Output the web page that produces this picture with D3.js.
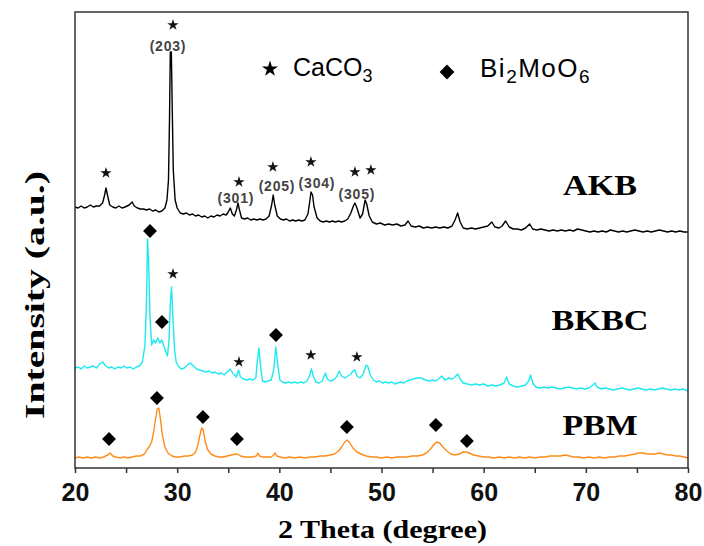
<!DOCTYPE html>
<html>
<head>
<meta charset="utf-8">
<script src="https://cdn.jsdelivr.net/npm/d3@7"></script>
<style>
    body { margin: 0; background: #fff; }
    #chart { width: 704px; height: 546px; }
</style>
</head>
<body>
<div id="chart"></div>
<script>

// sample names and vertical stacking offsets (a.u.)
const samples = ["AKB", "BKBC", "PBM"];
const offsets = [236, 78, 10];
const colors = ["#000000", "#1ee8f0", "#ff8c1a"];

const xTicks = [20, 25, 30, 35, 40, 45, 50, 55, 60, 65, 70, 75, 80];

// [2theta, intensity]
const akb = [[20.0,25],[20.3,24],[20.6,26],[20.9,24],[21.2,25],[21.5,27],[21.8,25],[22.1,26],[22.4,26],[22.7,29],
    [22.9,37],[23.03,44],[23.2,36],[23.4,27],[23.7,25],[24.0,24],[24.3,26],[24.6,24],[24.9,25],[25.3,27],[25.6,30],
    [25.8,26],[26.1,24],[26.4,23],[26.7,23],[27.0,22],[27.3,23],[27.6,21],[27.9,22],[28.2,20],[28.5,21],[28.8,24],
    [29.0,32],[29.15,52],[29.25,112],[29.33,180],[29.43,180],[29.52,122],[29.62,62],[29.8,32],[30.0,24],[30.3,19],
    [30.6,18],[30.9,19],[31.2,17],[31.5,18],[31.8,16],[32.1,17],[32.4,15],[32.7,16],[33.0,14],[33.3,16],[33.6,15],
    [33.9,17],[34.2,16],[34.5,18],[34.8,17],[35.0,20],[35.2,24],[35.4,18],[35.6,16],[35.8,22],[35.95,29],[36.1,22],
    [36.3,14],[36.6,13],[36.9,14],[37.2,12],[37.5,13],[37.8,12],[38.1,13],[38.4,12],[38.7,13],[39.0,16],[39.25,27],
    [39.4,37],[39.55,27],[39.8,16],[40.1,13],[40.4,12],[40.7,13],[41.0,11],[41.3,12],[41.6,11],[41.9,12],[42.2,11],
    [42.5,12],[42.8,18],[43.0,32],[43.1,40],[43.25,37],[43.4,25],[43.7,14],[44.0,11],[44.3,10],[44.6,11],[44.9,10],
    [45.2,11],[45.5,10],[45.8,11],[46.1,10],[46.4,11],[46.7,13],[47.0,19],[47.25,26],[47.4,29],[47.6,24],[47.9,14],
    [48.15,18],[48.4,32],[48.55,28],[48.8,16],[49.1,10],[49.5,8],[49.9,9],[50.3,7],[50.7,8],[51.1,7],[51.5,8],
    [51.9,6],[52.3,7],[52.6,11],[52.9,6],[53.3,5],[53.7,6],[54.1,4],[54.5,5],[54.9,4],[55.3,5],[55.7,4],[56.1,5],
    [56.5,4],[56.9,6],[57.2,12],[57.45,19],[57.7,10],[58.0,4],[58.4,3],[58.8,4],[59.2,3],[59.6,4],[60.0,5],[60.4,6],
    [60.8,10],[61.1,5],[61.5,4],[61.8,6],[62.15,11],[62.5,5],[62.9,3],[63.3,3],[63.7,2],[64.1,4],[64.5,8],[64.8,3],
    [65.2,2],[65.6,3],[66.0,2],[66.4,1],[66.8,2],[67.2,1],[67.6,2],[68.0,1],[68.4,2],[68.8,1],[69.2,3],[69.6,2],
    [70.0,1],[70.4,0],[70.8,1],[71.2,0],[71.6,1],[72.0,0],[72.4,2],[72.8,1],[73.2,0],[73.6,1],[74.0,0],[74.4,1],
    [74.8,2],[75.2,1],[75.6,0],[76.0,1],[76.4,0],[76.8,1],[77.2,2],[77.6,1],[78.0,0],[78.4,1],[78.8,0],[79.2,1],
    [79.6,0],[80.0,0]];

const bkbc = [[20.0,22],[20.3,23],[20.6,21],[20.9,24],[21.2,22],[21.5,23],[21.8,24],[22.1,22],[22.4,26],[22.7,28],
    [23.0,24],[23.3,22],[23.6,23],[23.9,21],[24.2,23],[24.5,22],[24.8,24],[25.1,22],[25.4,23],[25.7,21],[26.0,23],
    [26.3,24],[26.6,28],[26.85,45],[27.0,90],[27.1,151],[27.2,130],[27.35,70],[27.5,45],[27.7,50],[27.9,47],
    [28.1,52],[28.3,47],[28.5,50],[28.7,44],[28.9,38],[29.05,34],[29.2,50],[29.35,90],[29.45,103],[29.6,70],
    [29.75,40],[29.9,28],[30.1,24],[30.4,21],[30.7,22],[31.0,25],[31.3,27],[31.6,24],[31.9,21],[32.2,20],[32.5,19],
    [32.8,18],[33.1,19],[33.4,17],[33.7,18],[34.0,16],[34.3,17],[34.6,15],[34.9,18],[35.2,21],[35.5,16],[35.8,13],
    [36.0,20],[36.2,13],[36.5,11],[36.8,10],[37.1,11],[37.4,10],[37.7,12],[37.85,30],[38.0,42],[38.15,25],[38.35,9],
    [38.6,8],[38.9,9],[39.2,10],[39.45,20],[39.65,43],[39.85,25],[40.05,10],[40.3,8],[40.6,7],[40.9,8],[41.2,7],
    [41.5,8],[41.8,7],[42.1,8],[42.4,7],[42.7,9],[42.95,14],[43.15,21],[43.35,13],[43.6,8],[43.9,7],[44.2,9],
    [44.5,17],[44.7,11],[45.0,9],[45.3,10],[45.6,13],[45.85,19],[46.1,14],[46.4,12],[46.7,14],[47.0,16],[47.2,19],
    [47.4,20],[47.6,14],[47.9,12],[48.2,16],[48.5,25],[48.65,24],[48.9,15],[49.2,10],[49.5,8],[49.8,9],[50.1,7],
    [50.4,8],[50.7,7],[51.0,8],[51.3,6],[51.6,7],[51.9,8],[52.2,7],[52.5,9],[52.8,10],[53.1,11],[53.5,12],[53.9,12],
    [54.3,10],[54.7,9],[55.0,10],[55.3,9],[55.6,11],[55.9,14],[56.2,10],[56.6,12],[56.9,11],[57.2,13],[57.45,16],
    [57.7,11],[58.0,7],[58.4,6],[58.8,5],[59.2,6],[59.6,5],[60.0,6],[60.4,4],[60.8,5],[61.2,4],[61.6,5],[62.0,7],
    [62.25,13],[62.5,6],[62.9,4],[63.3,3],[63.7,4],[64.1,5],[64.4,9],[64.6,15],[64.8,7],[65.1,3],[65.5,2],[65.9,3],
    [66.3,2],[66.7,3],[67.1,2],[67.5,1],[67.9,2],[68.3,3],[68.7,2],[69.1,1],[69.5,2],[69.9,1],[70.3,2],[70.7,5],
    [70.9,7],[71.1,3],[71.5,1],[71.9,2],[72.3,1],[72.7,0],[73.1,1],[73.5,2],[73.9,1],[74.3,0],[74.7,1],[75.1,2],
    [75.5,1],[75.9,0],[76.3,1],[76.7,0],[77.1,1],[77.5,2],[77.9,1],[78.3,0],[78.7,1],[79.1,0],[79.5,1],[80.0,-1]];

const pbm = [[20.0,0],[20.4,1],[20.8,0],[21.2,1],[21.6,0],[22.0,1],[22.4,0],[22.8,1],[23.2,3],[23.45,5],[23.7,2],
    [24.0,1],[24.4,0],[24.8,1],[25.2,0],[25.6,1],[26.0,2],[26.4,2],[26.8,4],[27.1,9],[27.3,12],[27.5,16],[27.7,26],
    [27.9,40],[28.05,49],[28.2,50],[28.35,40],[28.55,23],[28.8,11],[29.1,5],[29.5,2],[29.9,1],[30.3,1],[30.7,2],
    [31.1,2],[31.5,3],[31.8,6],[32.0,12],[32.2,22],[32.4,30],[32.55,28],[32.75,16],[33.0,8],[33.3,4],[33.7,2],
    [34.1,1],[34.5,1],[34.9,2],[35.3,3],[35.7,4],[35.9,4],[36.2,2],[36.6,1],[37.0,1],[37.4,1],[37.75,2],[37.9,5],
    [38.05,2],[38.4,1],[38.8,1],[39.2,1],[39.45,3],[39.6,5],[39.75,2],[40.1,1],[40.5,0],[41.0,1],[41.5,0],[42.0,1],
    [42.5,0],[43.0,1],[43.5,1],[44.0,2],[44.5,2],[45.0,3],[45.4,4],[45.8,7],[46.1,11],[46.4,16],[46.65,18],[46.9,15],
    [47.2,10],[47.6,6],[48.0,4],[48.5,2],[49.0,1],[49.5,1],[50.0,0],[50.5,1],[51.0,0],[51.5,1],[52.0,1],[52.5,1],
    [53.0,2],[53.5,2],[54.0,3],[54.4,5],[54.8,9],[55.1,13],[55.4,16],[55.7,15],[56.0,11],[56.4,7],[56.8,4],[57.2,3],
    [57.6,4],[58.0,6],[58.3,6],[58.6,5],[59.0,3],[59.5,2],[60.0,1],[60.5,1],[61.0,0],[61.5,1],[62.0,0],[62.5,1],
    [63.0,0],[63.5,1],[64.0,0],[64.5,1],[65.0,0],[65.5,1],[66.0,1],[66.5,2],[67.0,2],[67.5,2],[68.0,3],[68.4,2],
    [68.8,1],[69.3,1],[69.8,0],[70.3,1],[70.8,0],[71.3,1],[71.8,0],[72.3,1],[72.8,1],[73.3,2],[73.8,2],[74.3,3],
    [74.8,4],[75.2,5],[75.6,5],[76.0,4],[76.4,4],[76.8,4],[77.2,5],[77.6,4],[78.0,3],[78.4,3],[78.8,2],[79.2,2],
    [79.6,1],[80.0,0]];

// phase markers: [2theta, intensity above the sample's offset]
const starMarks = [
    [[23.03,59],[29.59,207],[36.05,50],[39.37,65],[43.09,70],[47.4,60],[48.96,62]],
    [[29.59,116],[36.05,28],[43.09,35],[47.59,33]],
    []
];
const diamondMarks = [
    [],
    [[27.34,159],[28.51,68],[39.67,55]],
    [[23.33,19],[28.02,60],[32.52,41],[35.85,19],[46.61,31],[55.32,33],[58.36,17]]
];

// CaCO3 reflections labelled on AKB
const hklLabels = ["(203)", "(301)", "(205)", "(304)", "(305)"];
const hklPos = [[29.1,186],[35.75,34],[39.77,46],[43.68,49],[47.59,38]];


class XrdVis {

    constructor(parentElement) {
        this.parentElement = parentElement;
        this.series = [akb, bkbc, pbm];
        this.initVis();
    }

    initVis() {
        let vis = this;

        vis.margin = {top: 12, right: 16, bottom: 78, left: 75};
        vis.width = 704 - vis.margin.left - vis.margin.right;
        vis.height = 546 - vis.margin.top - vis.margin.bottom;

        vis.svg = d3.select("#" + vis.parentElement).append("svg")
            .attr("width", 704)
            .attr("height", 546)
            .append("g")
            .attr("transform", `translate(${vis.margin.left}, ${vis.margin.top})`);

        vis.x = d3.scaleLinear().domain([20, 80]).range([0, vis.width]);
        vis.y = d3.scaleLinear().domain([0, 456]).range([vis.height, 0]);

        vis.line = d3.line()
            .x(d => vis.x(d[0]))
            .y(d => vis.y(d[1]));

        vis.xAxis = d3.axisBottom(vis.x)
            .tickValues(xTicks)
            .tickSize(5)
            .tickSizeOuter(0)
            .tickPadding(10)
            .tickFormat(d => d % 10 === 0 ? d : "");

        vis.wrangleData();
    }

    wrangleData() {
        let vis = this;

        // shift each pattern by its stacking offset
        vis.displayData = vis.series.map((s, i) => ({
            name: samples[i],
            color: colors[i],
            values: s.map(d => [d[0], d[1] + offsets[i]])
        }));

        vis.stars = [];
        vis.diamonds = [];
        starMarks.forEach((arr, i) => arr.forEach(d => vis.stars.push([d[0], d[1] + offsets[i]])));
        diamondMarks.forEach((arr, i) => arr.forEach(d => vis.diamonds.push([d[0], d[1] + offsets[i]])));

        vis.updateVis();
    }

    updateVis() {
        let vis = this;

        vis.svg.selectAll(".pattern")
            .data(vis.displayData)
            .enter().append("path")
            .attr("class", "pattern")
            .attr("fill", "none")
            .attr("stroke", d => d.color)
            .attr("stroke-width", 1.4)
            .attr("stroke-linejoin", "round")
            .attr("d", d => vis.line(d.values));

        // frame
        vis.svg.append("rect")
            .attr("width", vis.width)
            .attr("height", vis.height)
            .attr("fill", "none")
            .attr("stroke", "#333")
            .attr("stroke-width", 1.5);

        let ax = vis.svg.append("g")
            .attr("transform", `translate(0, ${vis.height})`)
            .call(vis.xAxis);
        ax.select(".domain").remove();
        ax.selectAll("line").attr("stroke", "#333").attr("stroke-width", 1.5);
        ax.selectAll("text")
            .attr("fill", "#111")
            .style("font-family", "'Liberation Sans', Arial, sans-serif")
            .style("font-weight", "bold")
            .style("font-size", "25px");

        // markers
        vis.svg.selectAll(".star")
            .data(vis.stars)
            .enter().append("path")
            .attr("class", "star")
            .attr("d", d3.symbol().type(d3.symbolStar).size(40))
            .attr("fill", "#111")
            .attr("transform", d => `translate(${vis.x(d[0])}, ${vis.y(d[1])})`);

        vis.svg.selectAll(".diamond")
            .data(vis.diamonds)
            .enter().append("path")
            .attr("class", "diamond")
            .attr("d", d3.symbol().type(d3.symbolSquare).size(96))
            .attr("fill", "#000")
            .attr("transform", d => `translate(${vis.x(d[0])}, ${vis.y(d[1])}) rotate(45)`);

        vis.svg.selectAll(".hkl")
            .data(hklLabels)
            .enter().append("text")
            .attr("class", "hkl")
            .attr("x", (d, i) => vis.x(hklPos[i][0]))
            .attr("y", (d, i) => vis.y(hklPos[i][1] + offsets[0]))
            .attr("dy", "0.35em")
            .attr("text-anchor", "middle")
            .attr("fill", "#444")
            .style("font-family", "'Liberation Sans', Arial, sans-serif")
            .style("font-weight", "bold")
            .style("font-size", "14px")
            .style("letter-spacing", "0.8px")
            .text(d => d);

        // sample names
        let labelY = [195, 330, 435];
        vis.svg.selectAll(".sample")
            .data(vis.displayData)
            .enter().append("text")
            .attr("class", "sample")
            .attr("x", 525)
            .attr("y", (d, i) => labelY[i] - vis.margin.top)
            .attr("text-anchor", "middle")
            .attr("textLength", (d, i) => [74, 97, 75][i])
            .attr("lengthAdjust", "spacingAndGlyphs")
            .style("font-family", "'Liberation Serif', 'Times New Roman', serif")
            .style("font-weight", "bold")
            .style("font-size", "30px")
            .text(d => d.name);

        // legend
        let legend = vis.svg.append("g").attr("class", "legend");
        legend.append("path")
            .attr("d", d3.symbol().type(d3.symbolStar).size(80))
            .attr("transform", "translate(195, 57)");
        let t1 = legend.append("text")
            .attr("x", 218).attr("y", 64)
            .style("font-family", "'Liberation Sans', Arial, sans-serif")
            .style("font-size", "25px");
        t1.append("tspan").text("CaCO");
        t1.append("tspan").attr("dy", 6).style("font-size", "18px").text("3");

        legend.append("path")
            .attr("d", d3.symbol().type(d3.symbolSquare).size(110))
            .attr("transform", "translate(372, 60) rotate(45)");
        let t2 = legend.append("text")
            .attr("x", 405).attr("y", 65)
            .style("font-family", "'Liberation Sans', Arial, sans-serif")
            .style("font-size", "26px")
            .style("letter-spacing", "1.5px");
        t2.append("tspan").text("Bi");
        t2.append("tspan").attr("dy", 6).style("font-size", "19px").text("2");
        t2.append("tspan").attr("dy", -6).text("MoO");
        t2.append("tspan").attr("dy", 6).style("font-size", "19px").text("6");

        // axis titles
        vis.svg.append("text")
            .attr("x", vis.width / 2 + 1)
            .attr("y", vis.height + 70)
            .attr("text-anchor", "middle")
            .attr("textLength", 209)
            .attr("lengthAdjust", "spacingAndGlyphs")
            .style("font-family", "'Liberation Serif', 'Times New Roman', serif")
            .style("font-weight", "bold")
            .style("font-size", "26px")
            .text("2 Theta (degree)");

        vis.svg.append("text")
            .attr("transform", `translate(${-vis.margin.left + 44}, ${295 - vis.margin.top}) rotate(-90)`)
            .attr("text-anchor", "middle")
            .attr("textLength", 248)
            .attr("lengthAdjust", "spacingAndGlyphs")
            .style("font-family", "'Liberation Serif', 'Times New Roman', serif")
            .style("font-weight", "bold")
            .style("font-size", "28px")
            .text("Intensity (a.u.)");
    }
}

let xrdVis = new XrdVis("chart");

</script>
</body>
</html>
